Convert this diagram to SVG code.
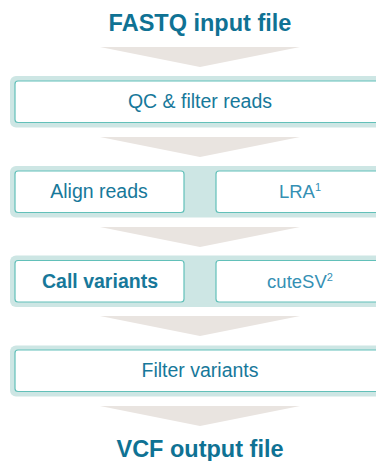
<svg xmlns="http://www.w3.org/2000/svg" width="376" height="461" viewBox="0 0 376 461">
<style>
.frame{fill:#cde6e4}
.box{fill:#ffffff;stroke:#62c0b9;stroke-width:1.2}
.arrow{fill:#e9e4e0}
.link{stroke:#5fbeb7;stroke-width:1.2;fill:none}
.title{font-family:"Liberation Sans",Arial,sans-serif;font-weight:bold;font-size:23.5px;fill:#0f7294;text-anchor:middle}
.lbl{font-family:"Liberation Sans",Arial,sans-serif;font-size:19.5px;fill:#17789a;text-anchor:middle}
.bold{font-weight:bold}
.tool{font-family:"Liberation Sans",Arial,sans-serif;font-size:18.5px;fill:#3590b4;text-anchor:middle}
.sup{font-size:11px}
</style>
<g id="input"><text class="title" x="200" y="31">FASTQ input file</text></g>
<g id="connectors">
<polygon class="arrow" points="100,47 300,47 200,67"/>
<polygon class="arrow" points="100,137 300,137 200,157"/>
<polygon class="arrow" points="100,227 300,227 200,247"/>
<polygon class="arrow" points="100,316 300,316 200,336"/>
<polygon class="arrow" points="100,406 300,406 200,426"/>
<line class="link" x1="184" y1="191.5" x2="216" y2="191.5"/>
<line class="link" x1="184" y1="281.5" x2="216" y2="281.5"/>
</g>
<g id="qc">
<rect class="frame" x="10" y="76" width="380" height="51.5" rx="6"/>
<rect class="box" x="15" y="81" width="370" height="41.5" rx="3"/>
<text class="lbl" x="200" y="108">QC &amp; filter reads</text>
</g>
<g id="align">
<rect class="frame" x="10" y="166" width="380" height="51.5" rx="6"/>
<rect class="box" x="15" y="171" width="169" height="41.5" rx="3"/>
<text class="lbl" x="99" y="198">Align reads</text>
</g>
<g id="lra">
<rect class="box" x="216" y="171" width="169" height="41.5" rx="3"/>
<text class="tool" x="300" y="198">LRA<tspan class="sup" dy="-7">1</tspan></text>
</g>
<g id="call">
<rect class="frame" x="10" y="255.5" width="380" height="51.5" rx="6"/>
<rect class="box" x="15" y="260.5" width="169" height="41.5" rx="3"/>
<text class="lbl bold" x="100" y="287.5">Call variants</text>
</g>
<g id="cutesv">
<rect class="box" x="216" y="260.5" width="169" height="41.5" rx="3"/>
<text class="tool" x="300" y="287.5">cuteSV<tspan class="sup" dy="-7">2</tspan></text>
</g>
<g id="filter">
<rect class="frame" x="10" y="345.5" width="380" height="51" rx="6"/>
<rect class="box" x="15" y="350" width="370" height="41.5" rx="3"/>
<text class="lbl" x="200" y="377">Filter variants</text>
</g>
<g id="output"><text class="title" x="200" y="457">VCF output file</text></g>
</svg>
